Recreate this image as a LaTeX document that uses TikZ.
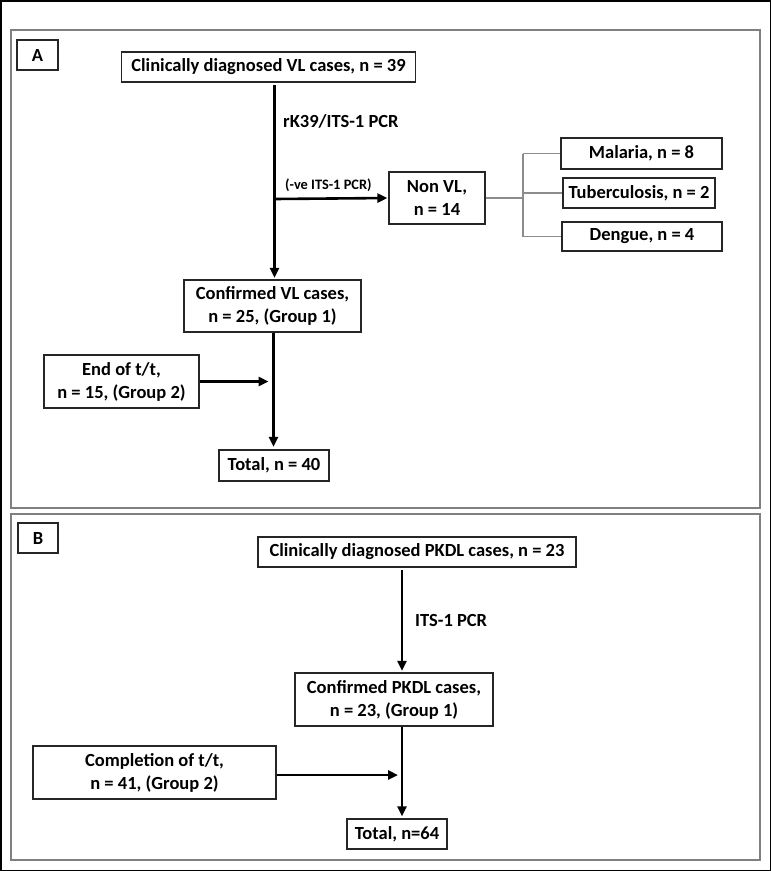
\documentclass[tikz,border=0pt]{standalone}
\usepackage{fontspec}
\setmainfont{Carlito}
\usetikzlibrary{arrows.meta}
\tikzset{
  bx/.style={draw=black!85, line width=1.2pt, fill=white, align=center, inner sep=0pt,
    font=\bfseries\fontsize{18.5}{23}\selectfont},
  lbl/.style={anchor=west, inner sep=0pt, font=\bfseries\fontsize{18.5}{22}\selectfont},
  smalllbl/.style={anchor=west, inner sep=0pt, font=\bfseries\fontsize{14.4}{17}\selectfont},
  arr/.style={line width=2.6pt, -{Triangle[length=10pt,width=9pt]}},
  thinline/.style={draw=black!45, line width=1.1pt},
  panel/.style={draw=black!50, line width=2pt},
}
\begin{document}
\begin{tikzpicture}[x=1pt,y=-1pt]
\useasboundingbox (0,0) rectangle (771,871);
\draw[line width=1.5pt] (0.75,0.75) rectangle (770.25,870.25);
\draw[panel] (11,30) rectangle (760,508);
\draw[panel] (11,514) rectangle (760,860);

% Panel A
\node[bx, minimum width=41pt, minimum height=30pt] (alab) at (37.5,55) {A};
\node[bx, minimum width=294pt, minimum height=30pt] (vltop) at (268.5,67) {Clinically diagnosed VL cases, n = 39};
\node[bx, minimum width=96pt, minimum height=52pt] (nonvl) at (437,198) {Non VL,\\n = 14};
\node[bx, minimum width=161pt, minimum height=31pt] (mal) at (641.5,153.5) {Malaria, n = 8};
\node[bx, minimum width=152pt, minimum height=30pt] (tub) at (639,193) {Tuberculosis, n = 2};
\node[bx, minimum width=160pt, minimum height=29pt] (den) at (642,236.5) {Dengue, n = 4};
\node[bx, minimum width=177pt, minimum height=52pt] (confvl) at (272.5,306) {Confirmed VL cases,\\n = 25, (Group 1)};
\node[bx, minimum width=155pt, minimum height=53pt] (endtt) at (121.5,381.5) {End of t/t,\\n = 15, (Group 2)};
\node[bx, minimum width=110pt, minimum height=31pt] (totvl) at (274,465.5) {Total, n = 40};

\coordinate (j1) at (274.5,199);
\coordinate (j2) at (273.5,381.5);
\coordinate (g) at (523,198);

\node[lbl] (l1) at (283,121) {rK39/ITS-1 PCR};
\node[smalllbl] (l2) at (285,185) {(-ve ITS-1 PCR)};

\draw[arr, shorten >=1.5pt] (vltop.south -| j1) ++(0,2.5) -- (confvl.north -| j1);
\draw[arr, shorten >=1pt] (j1) -- (nonvl.west);
\draw[thinline] (nonvl.east) -- (g);
\draw[thinline] (g |- mal.west) -- (g |- den.west);
\draw[thinline] (g |- mal.west) -- (mal.west);
\draw[thinline] (g |- tub.west) -- (tub.west);
\draw[thinline] (g |- den.west) -- (den.west);
\draw[arr, shorten >=2.5pt] (confvl.south -| j2) -- (totvl.north -| j2);
\draw[arr, shorten >=5pt] (endtt.east) -- (j2);

% Panel B
\node[bx, minimum width=40pt, minimum height=30pt] (blab) at (38,538) {B};
\node[bx, minimum width=318pt, minimum height=30pt] (pktop) at (417,552) {Clinically diagnosed PKDL cases, n = 23};
\node[bx, minimum width=198pt, minimum height=53pt] (confpk) at (394,699.5) {Confirmed PKDL cases,\\n = 23, (Group 1)};
\node[bx, minimum width=243pt, minimum height=53pt] (compl) at (154.5,772.5) {Completion of t/t,\\n = 41, (Group 2)};
\node[bx, minimum width=100pt, minimum height=30pt] (totpk) at (397,834) {Total, n=64};

\coordinate (j3) at (402,620);
\coordinate (j4) at (402,775);
\node[lbl] (l3) at (415,620) {ITS-1 PCR};

\draw[arr, shorten >=1.5pt] (pktop.south -| j3) ++(0,2.5) -- (confpk.north -| j3);
\draw[arr, shorten >=2pt] (confpk.south -| j4) -- (totpk.north -| j4);
\draw[arr, shorten >=4pt] (compl.east |- j4) -- (j4);
\end{tikzpicture}
\end{document}
